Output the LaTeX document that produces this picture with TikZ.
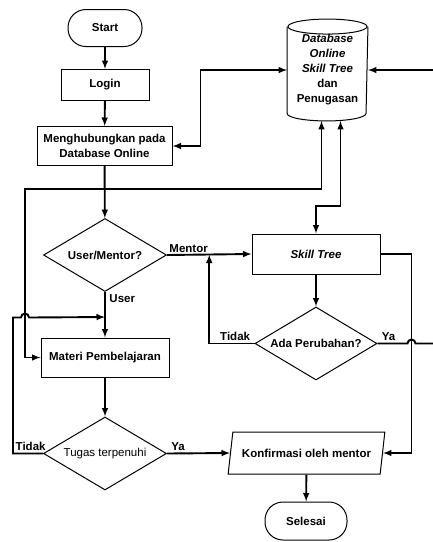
\documentclass[tikz,border=0pt]{standalone}
\usepackage{fontspec}
\setmainfont{Liberation Sans}
\usetikzlibrary{shapes, arrows, positioning, calc}

\begin{document}
\begin{tikzpicture}[x=1pt, y=-1pt, >=latex, line width=1.9pt, font=\fontsize{11.5}{15}\selectfont\bfseries]
    \tikzstyle{terminal} = [rectangle, draw, line width=1pt, rounded corners=18pt, minimum width=74pt, minimum height=37pt]
    \tikzstyle{process} = [rectangle, draw, line width=1pt, align=center, minimum width=128pt, minimum height=40pt]
    \tikzstyle{decision} = [diamond, draw, line width=1pt, aspect=1.7, inner sep=0pt, minimum width=123pt, minimum height=73pt]
    \tikzstyle{io} = [trapezium, draw, line width=1pt, trapezium left angle=74, trapezium right angle=106, trapezium stretches=true, minimum width=157pt, minimum height=42pt]
    \tikzstyle{store} = [rectangle, align=center, inner sep=0pt, minimum width=79pt, minimum height=100pt]
    \tikzstyle{lbl} = [inner sep=1.5pt]

    \useasboundingbox (0,0) rectangle (433,542);

    \node [terminal] (start) at (105,28) {Start};
    \node [process, minimum width=88pt, minimum height=31pt] (login) at (105,85) {Login};
    \node [process, minimum width=135pt, minimum height=39pt] (hub) at (104.5,146) {Menghubungkan pada\\Database Online};
    \node [store] (db) at (327.5,70) {\textit{Database}\\\textit{Online}\\\textit{Skill Tree}\\dan\\Penugasan};
    \node [decision] (um) at (105,255) {User/Mentor?};
    \node [process] (skill) at (316,254) {\textit{Skill Tree}};
    \node [decision, minimum width=122pt] (ada) at (316,343.5) {Ada Perubahan?};
    \node [process, minimum height=39pt] (materi) at (105,357.5) {Materi Pembelajaran};
    \node [decision, font=\fontsize{11.5}{15}\selectfont] (tugas) at (105,453.5) {Tugas terpenuhi};
    \node [io] (konf) at (306.5,453) {Konfirmasi oleh mentor};
    \node [terminal, minimum width=82pt, minimum height=38pt] (selesai) at (306,521) {Selesai};
    \coordinate (usrjoin) at ($(um.south)!0.55!(materi.north)$);

    % database drum
    \draw[line width=1pt] ([yshift=-7.5pt]db.north west) -- ([yshift=7.5pt]db.south west)
        arc[start angle=180, end angle=360, x radius=39.5pt, y radius=7.5pt] -- ([yshift=-7.5pt]db.north east);
    \draw[line width=1pt] ([yshift=-7.5pt]db.north) ellipse [x radius=39.5pt, y radius=7.5pt];

    % Connections
    \draw[->] (start) -- (login);
    \draw[->] (login) -- (hub);
    \draw[->] (hub) -- (um);
    \draw[<->] (hub.east) -- ++(28,0) |- (db.west);
    \draw[<->] ([xshift=-6pt]db.south) |- (25,189) |- (materi.west);
    \draw[<->] ([xshift=13pt]db.south) -- ++(0,85) -| (skill.north);
    \draw[->] (um.east) -- (skill.west) node[lbl, pos=0, anchor=south west] (lmentor) {Mentor};
    \draw[->] (um.south) -- (materi.north) node[lbl, pos=0, anchor=north west, xshift=2pt] (luser) {User};
    \draw[->] (skill) -- (ada);
    \draw[->] (ada.west) -| ($(um.east)!.5!(skill.west)$) node[lbl, pos=0, anchor=south east, xshift=-2pt] (ltidak1) {Tidak};
    \draw[->] (ada.east) -- ++(30,0) arc[start angle=180, end angle=0, radius=4pt] -- ++(30,0) |- (db.east);
    \node[lbl, anchor=south west, xshift=2pt] (lya1) at (ada.east) {Ya};
    \draw[->] (skill.east) -- ++(31,0) |- (konf.east);
    \draw[->] (materi) -- (tugas);
    \draw[->] (tugas.east) -- (konf.west) node[lbl, pos=0, anchor=south west, xshift=2pt] (lya2) {Ya};
    \draw[->] (tugas.west) -- ++(-30,0) -- ++(0,-136) -- ++(8,0) arc[start angle=180, end angle=0, radius=4pt] -- (usrjoin);
    \node[lbl, anchor=south east, xshift=5pt] (ltidak2) at (tugas.west) {Tidak};
    \draw[->] (konf) -- (selesai);
\end{tikzpicture}
\end{document}
